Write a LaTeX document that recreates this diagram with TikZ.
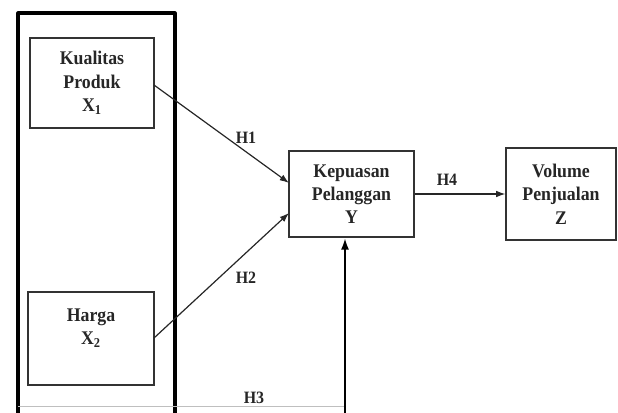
\documentclass[tikz,border=0pt]{standalone}
\usepackage{fontspec}
\setmainfont{Liberation Serif}
\newfontfamily\boxfont[FakeStretch=0.92]{Liberation Serif}
\usetikzlibrary{arrows.meta}
\begin{document}
\begin{tikzpicture}[x=0.75pt,y=-0.75pt,
  box/.style={draw=black!80,line width=0.9pt,inner sep=0pt,align=center,
    font=\boxfont\fontsize{14.5}{17.5}\selectfont\bfseries,text=black!85},
  conn/.style={draw=black!85,line width=0.9pt,-{Latex[length=7pt,width=5pt]}},
  lab/.style={font=\boxfont\fontsize{13}{14}\selectfont\bfseries,text=black!85,inner sep=0pt}]
\useasboundingbox (0,0) rectangle (618,412);
% outer frame
\coordinate (fbl) at (18,413);
\coordinate (ftl) at (18,13);
\coordinate (ftr) at (175,13);
\coordinate (fbr) at (175,413);
\draw[line width=2.3pt,line join=round] (fbl) -- (ftl) -- (ftr) -- (fbr);
% nodes
\node[box,minimum width=93pt,minimum height=67.5pt] (x1) at (92,83) {Kualitas\\Produk\\X\textsubscript{1}};
\node[box,minimum width=94.5pt,minimum height=69.75pt] (x2) at (91,338.5) {Harga\\X\textsubscript{2}\\[0pt]};
\node[box,minimum width=93.75pt,minimum height=64.5pt] (y) at (351.5,194) {Kepuasan\\Pelanggan\\Y};
\node[box,minimum width=82.5pt,minimum height=69pt] (z) at (561,194) {Volume\\Penjualan\\Z};
% connectors
\coordinate (h1s) at (154,85);
\coordinate (h1e) at (289,183);
\coordinate (h2s) at (154,338);
\coordinate (h2e) at (289,213);
\draw[conn] (h1s) -- (h1e);
\draw[conn] (h2s) -- (h2e);
\draw[conn] (y.east) -- (z.west);
\coordinate (h3b) at (345,413);
\coordinate (h3l) at (18,406);
\coordinate (h3r) at (345,406);
\draw[black!25,line width=0.6pt] (h3l) -- (h3r);
\draw[line width=2.2pt,-{Latex[length=9pt,width=6pt]}] (h3b) -- (y.south -| h3b);
% labels
\node[lab] (l1) at (246,138) {H1};
\node[lab] (l2) at (246,278) {H2};
\node[lab] (l3) at (254,398) {H3};
\node[lab] (l4) at (447,180) {H4};
\end{tikzpicture}
\end{document}
